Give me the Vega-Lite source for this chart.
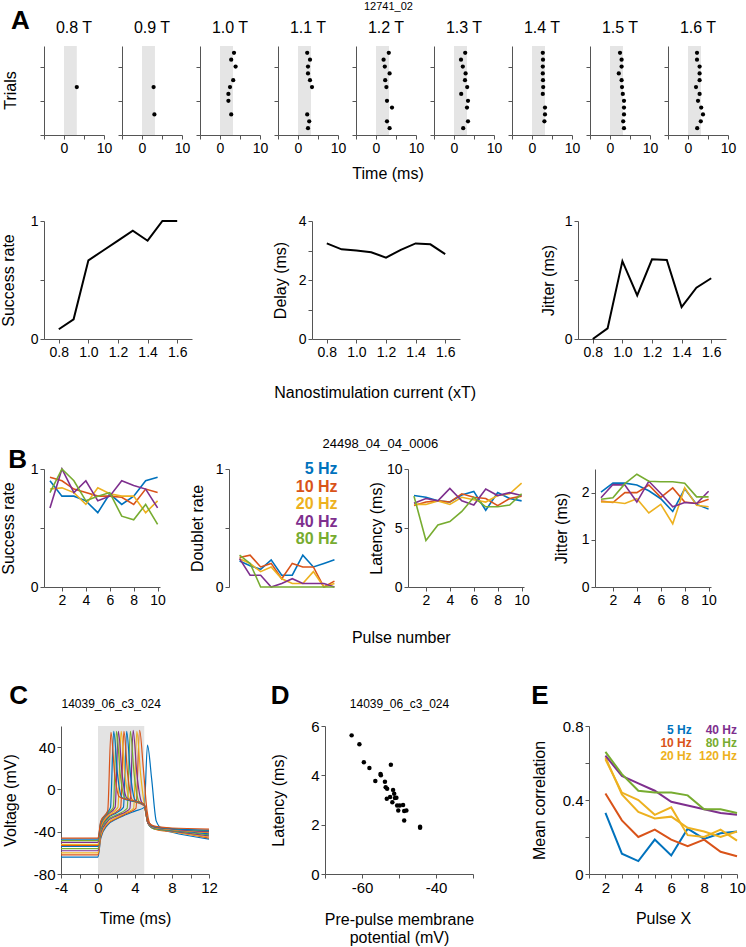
{
"$schema": "https://vega.github.io/schema/vega-lite/v6.json",
"padding": {"left": 0, "top": 1, "right": 5, "bottom": 2},
"config": {
  "font": "Liberation Sans",
  "view": {"stroke": null},
  "axis": {"grid": false, "domainColor": "#555", "tickColor": "#555", "labelColor": "#000", "titleColor": "#000", "labelFontSize": 14, "titleFontSize": 16, "titleFontWeight": "normal", "tickSize": 4, "labelPadding": 2, "titlePadding": 6, "labelFlush": false, "labelOverlap": false},
  "title": {"fontWeight": "normal", "color": "#000", "fontSize": 16},
  "header": {"labelColor": "#000", "titleColor": "#000"}
},
"datasets": {
  "raster": [
    {"stim": "0.8 T", "rl": "Trials", "trial": 7, "t": 3.2},
    {"stim": "0.9 T", "rl": "Trials", "trial": 7, "t": 2.9},
    {"stim": "0.9 T", "rl": "Trials", "trial": 3, "t": 3.1},
    {"stim": "1.0 T", "rl": "Trials", "trial": 12, "t": 3.5},
    {"stim": "1.0 T", "rl": "Trials", "trial": 11, "t": 2.8},
    {"stim": "1.0 T", "rl": "Trials", "trial": 10, "t": 3.9},
    {"stim": "1.0 T", "rl": "Trials", "trial": 8, "t": 3.3},
    {"stim": "1.0 T", "rl": "Trials", "trial": 7, "t": 2.5},
    {"stim": "1.0 T", "rl": "Trials", "trial": 6, "t": 2.1},
    {"stim": "1.0 T", "rl": "Trials", "trial": 5, "t": 2.1},
    {"stim": "1.0 T", "rl": "Trials", "trial": 3, "t": 2.8},
    {"stim": "1.1 T", "rl": "Trials", "trial": 12, "t": 2.3},
    {"stim": "1.1 T", "rl": "Trials", "trial": 11, "t": 3.0},
    {"stim": "1.1 T", "rl": "Trials", "trial": 10, "t": 2.5},
    {"stim": "1.1 T", "rl": "Trials", "trial": 9, "t": 2.5},
    {"stim": "1.1 T", "rl": "Trials", "trial": 8, "t": 3.0},
    {"stim": "1.1 T", "rl": "Trials", "trial": 7, "t": 3.5},
    {"stim": "1.1 T", "rl": "Trials", "trial": 3, "t": 2.3},
    {"stim": "1.1 T", "rl": "Trials", "trial": 2, "t": 2.8},
    {"stim": "1.1 T", "rl": "Trials", "trial": 1, "t": 2.5},
    {"stim": "1.2 T", "rl": "Trials", "trial": 12, "t": 3.2},
    {"stim": "1.2 T", "rl": "Trials", "trial": 11, "t": 1.9},
    {"stim": "1.2 T", "rl": "Trials", "trial": 10, "t": 2.2},
    {"stim": "1.2 T", "rl": "Trials", "trial": 9, "t": 3.4},
    {"stim": "1.2 T", "rl": "Trials", "trial": 8, "t": 2.3},
    {"stim": "1.2 T", "rl": "Trials", "trial": 7, "t": 2.6},
    {"stim": "1.2 T", "rl": "Trials", "trial": 5, "t": 2.75},
    {"stim": "1.2 T", "rl": "Trials", "trial": 4, "t": 4.0},
    {"stim": "1.2 T", "rl": "Trials", "trial": 2, "t": 2.75},
    {"stim": "1.2 T", "rl": "Trials", "trial": 1, "t": 3.4},
    {"stim": "1.3 T", "rl": "Trials", "trial": 12, "t": 2.8},
    {"stim": "1.3 T", "rl": "Trials", "trial": 11, "t": 1.75},
    {"stim": "1.3 T", "rl": "Trials", "trial": 10, "t": 2.2},
    {"stim": "1.3 T", "rl": "Trials", "trial": 9, "t": 2.9},
    {"stim": "1.3 T", "rl": "Trials", "trial": 8, "t": 2.75},
    {"stim": "1.3 T", "rl": "Trials", "trial": 7, "t": 3.3},
    {"stim": "1.3 T", "rl": "Trials", "trial": 6, "t": 1.8},
    {"stim": "1.3 T", "rl": "Trials", "trial": 5, "t": 3.5},
    {"stim": "1.3 T", "rl": "Trials", "trial": 4, "t": 3.25},
    {"stim": "1.3 T", "rl": "Trials", "trial": 2, "t": 3.5},
    {"stim": "1.3 T", "rl": "Trials", "trial": 1, "t": 2.3},
    {"stim": "1.4 T", "rl": "Trials", "trial": 12, "t": 2.7},
    {"stim": "1.4 T", "rl": "Trials", "trial": 11, "t": 2.75},
    {"stim": "1.4 T", "rl": "Trials", "trial": 10, "t": 2.7},
    {"stim": "1.4 T", "rl": "Trials", "trial": 9, "t": 2.7},
    {"stim": "1.4 T", "rl": "Trials", "trial": 8, "t": 2.75},
    {"stim": "1.4 T", "rl": "Trials", "trial": 7, "t": 2.8},
    {"stim": "1.4 T", "rl": "Trials", "trial": 6, "t": 2.7},
    {"stim": "1.4 T", "rl": "Trials", "trial": 4, "t": 3.25},
    {"stim": "1.4 T", "rl": "Trials", "trial": 3, "t": 3.25},
    {"stim": "1.4 T", "rl": "Trials", "trial": 2, "t": 3.1},
    {"stim": "1.5 T", "rl": "Trials", "trial": 12, "t": 2.5},
    {"stim": "1.5 T", "rl": "Trials", "trial": 11, "t": 2.9},
    {"stim": "1.5 T", "rl": "Trials", "trial": 10, "t": 2.9},
    {"stim": "1.5 T", "rl": "Trials", "trial": 9, "t": 2.2},
    {"stim": "1.5 T", "rl": "Trials", "trial": 8, "t": 2.9},
    {"stim": "1.5 T", "rl": "Trials", "trial": 7, "t": 3.0},
    {"stim": "1.5 T", "rl": "Trials", "trial": 6, "t": 3.2},
    {"stim": "1.5 T", "rl": "Trials", "trial": 5, "t": 3.5},
    {"stim": "1.5 T", "rl": "Trials", "trial": 4, "t": 3.5},
    {"stim": "1.5 T", "rl": "Trials", "trial": 3, "t": 3.5},
    {"stim": "1.5 T", "rl": "Trials", "trial": 2, "t": 3.3},
    {"stim": "1.5 T", "rl": "Trials", "trial": 1, "t": 3.5},
    {"stim": "1.6 T", "rl": "Trials", "trial": 12, "t": 2.25},
    {"stim": "1.6 T", "rl": "Trials", "trial": 11, "t": 2.25},
    {"stim": "1.6 T", "rl": "Trials", "trial": 10, "t": 2.9},
    {"stim": "1.6 T", "rl": "Trials", "trial": 9, "t": 2.9},
    {"stim": "1.6 T", "rl": "Trials", "trial": 8, "t": 2.9},
    {"stim": "1.6 T", "rl": "Trials", "trial": 7, "t": 2.0},
    {"stim": "1.6 T", "rl": "Trials", "trial": 6, "t": 2.9},
    {"stim": "1.6 T", "rl": "Trials", "trial": 5, "t": 2.5},
    {"stim": "1.6 T", "rl": "Trials", "trial": 4, "t": 3.3},
    {"stim": "1.6 T", "rl": "Trials", "trial": 3, "t": 3.75},
    {"stim": "1.6 T", "rl": "Trials", "trial": 2, "t": 3.2},
    {"stim": "1.6 T", "rl": "Trials", "trial": 1, "t": 2.3}
  ],
  "stimA": [
    {"I": 0.8, "success": 0.083, "delay": 3.24, "jitter": 0},
    {"I": 0.9, "success": 0.167, "delay": 3.04, "jitter": 0.09},
    {"I": 1.0, "success": 0.667, "delay": 3.0, "jitter": 0.66},
    {"I": 1.1, "success": 0.75, "delay": 2.94, "jitter": 0.37},
    {"I": 1.2, "success": 0.833, "delay": 2.76, "jitter": 0.675},
    {"I": 1.3, "success": 0.917, "delay": 3.02, "jitter": 0.67},
    {"I": 1.4, "success": 0.833, "delay": 3.24, "jitter": 0.27},
    {"I": 1.5, "success": 1.0, "delay": 3.21, "jitter": 0.435},
    {"I": 1.6, "success": 1.0, "delay": 2.88, "jitter": 0.515}
  ],
  "pulse": [
    {"freq": "5 Hz", "p": 1, "sr": 0.90, "dr": 0.22, "lat": 7.75, "jit": 2.01},
    {"freq": "5 Hz", "p": 2, "sr": 0.77, "dr": 0.18, "lat": 7.6, "jit": 2.2},
    {"freq": "5 Hz", "p": 3, "sr": 0.77, "dr": 0.15, "lat": 7.3, "jit": 2.2},
    {"freq": "5 Hz", "p": 4, "sr": 0.73, "dr": 0.23, "lat": 7.2, "jit": 2.16},
    {"freq": "5 Hz", "p": 5, "sr": 0.63, "dr": 0.10, "lat": 7.8, "jit": 2.04},
    {"freq": "5 Hz", "p": 6, "sr": 0.79, "dr": 0.10, "lat": 8.1, "jit": 1.87},
    {"freq": "5 Hz", "p": 7, "sr": 0.70, "dr": 0.27, "lat": 6.5, "jit": 1.6},
    {"freq": "5 Hz", "p": 8, "sr": 0.77, "dr": 0.17, "lat": 8.0, "jit": 2.08},
    {"freq": "5 Hz", "p": 9, "sr": 0.90, "dr": 0.20, "lat": 7.5, "jit": 1.75},
    {"freq": "5 Hz", "p": 10, "sr": 0.93, "dr": 0.23, "lat": 7.3, "jit": 1.65},
    {"freq": "10 Hz", "p": 1, "sr": 0.93, "dr": 0.25, "lat": 6.9, "jit": 1.82},
    {"freq": "10 Hz", "p": 2, "sr": 0.90, "dr": 0.27, "lat": 7.2, "jit": 1.79},
    {"freq": "10 Hz", "p": 3, "sr": 0.83, "dr": 0.17, "lat": 7.3, "jit": 2.0},
    {"freq": "10 Hz", "p": 4, "sr": 0.80, "dr": 0.20, "lat": 7.2, "jit": 2.0},
    {"freq": "10 Hz", "p": 5, "sr": 0.77, "dr": 0.07, "lat": 7.9, "jit": 2.16},
    {"freq": "10 Hz", "p": 6, "sr": 0.77, "dr": 0.20, "lat": 7.6, "jit": 1.9},
    {"freq": "10 Hz", "p": 7, "sr": 0.76, "dr": 0.17, "lat": 7.5, "jit": 2.1},
    {"freq": "10 Hz", "p": 8, "sr": 0.70, "dr": 0.17, "lat": 6.9, "jit": 1.8},
    {"freq": "10 Hz", "p": 9, "sr": 0.83, "dr": 0.0, "lat": 7.5, "jit": 1.77},
    {"freq": "10 Hz", "p": 10, "sr": 0.80, "dr": 0.05, "lat": 7.7, "jit": 1.86},
    {"freq": "20 Hz", "p": 1, "sr": 0.83, "dr": 0.24, "lat": 7.0, "jit": 1.8},
    {"freq": "20 Hz", "p": 2, "sr": 0.84, "dr": 0.20, "lat": 7.0, "jit": 1.8},
    {"freq": "20 Hz", "p": 3, "sr": 0.80, "dr": 0.13, "lat": 7.3, "jit": 1.77},
    {"freq": "20 Hz", "p": 4, "sr": 0.70, "dr": 0.17, "lat": 7.0, "jit": 1.87},
    {"freq": "20 Hz", "p": 5, "sr": 0.84, "dr": 0.07, "lat": 7.6, "jit": 1.57},
    {"freq": "20 Hz", "p": 6, "sr": 0.79, "dr": 0.03, "lat": 7.4, "jit": 1.75},
    {"freq": "20 Hz", "p": 7, "sr": 0.77, "dr": 0.03, "lat": 7.2, "jit": 1.34},
    {"freq": "20 Hz", "p": 8, "sr": 0.77, "dr": 0.13, "lat": 7.75, "jit": 2.1},
    {"freq": "20 Hz", "p": 9, "sr": 0.63, "dr": 0.0, "lat": 7.9, "jit": 1.73},
    {"freq": "20 Hz", "p": 10, "sr": 0.73, "dr": 0.03, "lat": 8.8, "jit": 1.7},
    {"freq": "40 Hz", "p": 1, "sr": 0.67, "dr": 0.24, "lat": 7.1, "jit": 1.89},
    {"freq": "40 Hz", "p": 2, "sr": 1.0, "dr": 0.10, "lat": 7.5, "jit": 2.17},
    {"freq": "40 Hz", "p": 3, "sr": 0.80, "dr": 0.10, "lat": 7.3, "jit": 2.16},
    {"freq": "40 Hz", "p": 4, "sr": 0.90, "dr": 0.0, "lat": 8.35, "jit": 1.8},
    {"freq": "40 Hz", "p": 5, "sr": 0.73, "dr": 0.03, "lat": 7.3, "jit": 2.24},
    {"freq": "40 Hz", "p": 6, "sr": 0.77, "dr": 0.07, "lat": 6.95, "jit": 1.98},
    {"freq": "40 Hz", "p": 7, "sr": 0.90, "dr": 0.03, "lat": 8.3, "jit": 1.7},
    {"freq": "40 Hz", "p": 8, "sr": 0.86, "dr": 0.03, "lat": 7.75, "jit": 1.79},
    {"freq": "40 Hz", "p": 9, "sr": 0.83, "dr": 0.03, "lat": 8.0, "jit": 1.77},
    {"freq": "40 Hz", "p": 10, "sr": 0.67, "dr": 0.0, "lat": 7.75, "jit": 2.03},
    {"freq": "80 Hz", "p": 1, "sr": 0.80, "dr": 0.27, "lat": 7.7, "jit": 1.86},
    {"freq": "80 Hz", "p": 2, "sr": 1.0, "dr": 0.20, "lat": 3.95, "jit": 1.89},
    {"freq": "80 Hz", "p": 3, "sr": 0.90, "dr": 0.0, "lat": 5.25, "jit": 2.19},
    {"freq": "80 Hz", "p": 4, "sr": 0.73, "dr": 0.0, "lat": 5.55, "jit": 2.39},
    {"freq": "80 Hz", "p": 5, "sr": 0.77, "dr": 0.0, "lat": 6.4, "jit": 2.24},
    {"freq": "80 Hz", "p": 6, "sr": 0.80, "dr": 0.0, "lat": 7.6, "jit": 2.23},
    {"freq": "80 Hz", "p": 7, "sr": 0.60, "dr": 0.0, "lat": 6.8, "jit": 2.23},
    {"freq": "80 Hz", "p": 8, "sr": 0.57, "dr": 0.0, "lat": 6.8, "jit": 2.2},
    {"freq": "80 Hz", "p": 9, "sr": 0.70, "dr": 0.0, "lat": 6.95, "jit": 1.91},
    {"freq": "80 Hz", "p": 10, "sr": 0.53, "dr": 0.0, "lat": 7.9, "jit": 1.91}
  ],
  "traces": [
    {"tr": "t01", "t": -4, "v": -64}, {"tr": "t01", "t": 0, "v": -64}, {"tr": "t01", "t": 0.3, "v": -46}, {"tr": "t01", "t": 1, "v": -34}, {"tr": "t01", "t": 2, "v": -28}, {"tr": "t01", "t": 3, "v": -24}, {"tr": "t01", "t": 4, "v": -20.5}, {"tr": "t01", "t": 5, "v": -17}, {"tr": "t01", "t": 5.35, "v": 42}, {"tr": "t01", "t": 5.8, "v": 10}, {"tr": "t01", "t": 6.3, "v": -30}, {"tr": "t01", "t": 7, "v": -38}, {"tr": "t01", "t": 8, "v": -40.5}, {"tr": "t01", "t": 12, "v": -47},
    {"tr": "t02", "t": -4, "v": -62}, {"tr": "t02", "t": 0, "v": -62}, {"tr": "t02", "t": 0.3, "v": -45}, {"tr": "t02", "t": 1, "v": -33}, {"tr": "t02", "t": 2, "v": -27.5}, {"tr": "t02", "t": 3, "v": -23}, {"tr": "t02", "t": 4.1, "v": -18}, {"tr": "t02", "t": 4.5, "v": 56}, {"tr": "t02", "t": 4.9, "v": 20}, {"tr": "t02", "t": 5.3, "v": -20}, {"tr": "t02", "t": 5.8, "v": -36}, {"tr": "t02", "t": 6.5, "v": -38.5}, {"tr": "t02", "t": 8, "v": -40}, {"tr": "t02", "t": 12, "v": -46},
    {"tr": "t03", "t": -4, "v": -60}, {"tr": "t03", "t": 0, "v": -60}, {"tr": "t03", "t": 0.3, "v": -43}, {"tr": "t03", "t": 1, "v": -32}, {"tr": "t03", "t": 2, "v": -26.5}, {"tr": "t03", "t": 3, "v": -22}, {"tr": "t03", "t": 3.85, "v": -18}, {"tr": "t03", "t": 4.2, "v": 55}, {"tr": "t03", "t": 4.6, "v": 15}, {"tr": "t03", "t": 5.0, "v": -14}, {"tr": "t03", "t": 5.4, "v": -32}, {"tr": "t03", "t": 6, "v": -37}, {"tr": "t03", "t": 8, "v": -40}, {"tr": "t03", "t": 12, "v": -45},
    {"tr": "t04", "t": -4, "v": -58}, {"tr": "t04", "t": 0, "v": -58}, {"tr": "t04", "t": 0.3, "v": -41}, {"tr": "t04", "t": 1, "v": -30.5}, {"tr": "t04", "t": 2, "v": -25}, {"tr": "t04", "t": 3, "v": -21}, {"tr": "t04", "t": 3.45, "v": -18}, {"tr": "t04", "t": 3.8, "v": 56}, {"tr": "t04", "t": 4.2, "v": 15}, {"tr": "t04", "t": 4.7, "v": -12}, {"tr": "t04", "t": 5, "v": -15}, {"tr": "t04", "t": 5.4, "v": -32}, {"tr": "t04", "t": 6, "v": -37}, {"tr": "t04", "t": 8, "v": -39.5}, {"tr": "t04", "t": 12, "v": -44},
    {"tr": "t05", "t": -4, "v": -56}, {"tr": "t05", "t": 0, "v": -56}, {"tr": "t05", "t": 0.3, "v": -39}, {"tr": "t05", "t": 1, "v": -29}, {"tr": "t05", "t": 2, "v": -24}, {"tr": "t05", "t": 3.15, "v": -18}, {"tr": "t05", "t": 3.5, "v": 55}, {"tr": "t05", "t": 3.9, "v": 15}, {"tr": "t05", "t": 4.4, "v": -11}, {"tr": "t05", "t": 5, "v": -15}, {"tr": "t05", "t": 5.4, "v": -32}, {"tr": "t05", "t": 6, "v": -37}, {"tr": "t05", "t": 8, "v": -39}, {"tr": "t05", "t": 12, "v": -43},
    {"tr": "t06", "t": -4, "v": -54}, {"tr": "t06", "t": 0, "v": -54}, {"tr": "t06", "t": 0.3, "v": -37}, {"tr": "t06", "t": 1, "v": -27.5}, {"tr": "t06", "t": 2, "v": -22}, {"tr": "t06", "t": 2.75, "v": -17}, {"tr": "t06", "t": 3.1, "v": 55}, {"tr": "t06", "t": 3.5, "v": 15}, {"tr": "t06", "t": 4.0, "v": -10}, {"tr": "t06", "t": 5, "v": -15}, {"tr": "t06", "t": 5.4, "v": -32}, {"tr": "t06", "t": 6, "v": -36.5}, {"tr": "t06", "t": 8, "v": -38.5}, {"tr": "t06", "t": 12, "v": -42},
    {"tr": "t07", "t": -4, "v": -53}, {"tr": "t07", "t": 0, "v": -53}, {"tr": "t07", "t": 0.3, "v": -36}, {"tr": "t07", "t": 1, "v": -26.5}, {"tr": "t07", "t": 2, "v": -21}, {"tr": "t07", "t": 2.45, "v": -17}, {"tr": "t07", "t": 2.8, "v": 55}, {"tr": "t07", "t": 3.2, "v": 15}, {"tr": "t07", "t": 3.7, "v": -10}, {"tr": "t07", "t": 5, "v": -15.5}, {"tr": "t07", "t": 5.4, "v": -32}, {"tr": "t07", "t": 6, "v": -36}, {"tr": "t07", "t": 8, "v": -38}, {"tr": "t07", "t": 12, "v": -41},
    {"tr": "t08", "t": -4, "v": -52}, {"tr": "t08", "t": 0, "v": -52}, {"tr": "t08", "t": 0.3, "v": -35}, {"tr": "t08", "t": 1, "v": -25.5}, {"tr": "t08", "t": 2.15, "v": -17}, {"tr": "t08", "t": 2.5, "v": 55}, {"tr": "t08", "t": 2.9, "v": 15}, {"tr": "t08", "t": 3.4, "v": -9}, {"tr": "t08", "t": 5, "v": -15}, {"tr": "t08", "t": 5.4, "v": -31}, {"tr": "t08", "t": 6, "v": -36}, {"tr": "t08", "t": 8, "v": -38}, {"tr": "t08", "t": 12, "v": -40.5},
    {"tr": "t09", "t": -4, "v": -50}, {"tr": "t09", "t": 0, "v": -50}, {"tr": "t09", "t": 0.3, "v": -33}, {"tr": "t09", "t": 1, "v": -24}, {"tr": "t09", "t": 1.85, "v": -17}, {"tr": "t09", "t": 2.2, "v": 55}, {"tr": "t09", "t": 2.6, "v": 15}, {"tr": "t09", "t": 3.1, "v": -8}, {"tr": "t09", "t": 5, "v": -15}, {"tr": "t09", "t": 5.4, "v": -31}, {"tr": "t09", "t": 6, "v": -35.5}, {"tr": "t09", "t": 8, "v": -37.5}, {"tr": "t09", "t": 12, "v": -40},
    {"tr": "t10", "t": -4, "v": -48.5}, {"tr": "t10", "t": 0, "v": -48.5}, {"tr": "t10", "t": 0.3, "v": -32}, {"tr": "t10", "t": 1, "v": -23}, {"tr": "t10", "t": 1.65, "v": -17}, {"tr": "t10", "t": 2.0, "v": 55}, {"tr": "t10", "t": 2.4, "v": 15}, {"tr": "t10", "t": 2.9, "v": -8}, {"tr": "t10", "t": 5, "v": -14.5}, {"tr": "t10", "t": 5.4, "v": -30}, {"tr": "t10", "t": 6, "v": -35}, {"tr": "t10", "t": 8, "v": -37}, {"tr": "t10", "t": 12, "v": -39},
    {"tr": "t11", "t": -4, "v": -47}, {"tr": "t11", "t": 0, "v": -47}, {"tr": "t11", "t": 0.3, "v": -31}, {"tr": "t11", "t": 1, "v": -22}, {"tr": "t11", "t": 1.35, "v": -17}, {"tr": "t11", "t": 1.7, "v": 55}, {"tr": "t11", "t": 2.1, "v": 15}, {"tr": "t11", "t": 2.6, "v": -8}, {"tr": "t11", "t": 5, "v": -14}, {"tr": "t11", "t": 5.4, "v": -30}, {"tr": "t11", "t": 6, "v": -35}, {"tr": "t11", "t": 8, "v": -37}, {"tr": "t11", "t": 12, "v": -38.5},
    {"tr": "t12", "t": -4, "v": -46}, {"tr": "t12", "t": 0, "v": -46}, {"tr": "t12", "t": 0.3, "v": -30}, {"tr": "t12", "t": 1.05, "v": -20}, {"tr": "t12", "t": 1.4, "v": 54}, {"tr": "t12", "t": 1.8, "v": 15}, {"tr": "t12", "t": 2.3, "v": -7}, {"tr": "t12", "t": 5, "v": -14}, {"tr": "t12", "t": 5.4, "v": -30}, {"tr": "t12", "t": 6, "v": -34.5}, {"tr": "t12", "t": 8, "v": -36.5}, {"tr": "t12", "t": 12, "v": -37.5}
  ],
  "dpts": [
    {"vm": -62.8, "lat": 5.62}, {"vm": -60.7, "lat": 5.26}, {"vm": -59.5, "lat": 4.53}, {"vm": -58.0, "lat": 4.30},
    {"vm": -56.4, "lat": 3.77}, {"vm": -55.0, "lat": 4.05}, {"vm": -54.9, "lat": 4.0}, {"vm": -53.8, "lat": 3.74},
    {"vm": -53.6, "lat": 3.52}, {"vm": -53.2, "lat": 3.46}, {"vm": -53.3, "lat": 3.05}, {"vm": -52.2, "lat": 4.43},
    {"vm": -52.4, "lat": 3.12}, {"vm": -51.6, "lat": 3.41}, {"vm": -51.3, "lat": 3.25}, {"vm": -51.8, "lat": 2.91},
    {"vm": -51.1, "lat": 3.08}, {"vm": -50.7, "lat": 3.09}, {"vm": -50.5, "lat": 2.78}, {"vm": -49.8, "lat": 2.78},
    {"vm": -50.2, "lat": 2.57}, {"vm": -48.9, "lat": 2.80}, {"vm": -48.6, "lat": 2.55}, {"vm": -48.0, "lat": 2.57},
    {"vm": -48.6, "lat": 2.17}, {"vm": -44.3, "lat": 1.92}, {"vm": -44.3, "lat": 1.87}
  ],
  "corr": [
    {"freq": "5 Hz", "px": 2, "c": 0.33}, {"freq": "5 Hz", "px": 3, "c": 0.11}, {"freq": "5 Hz", "px": 4, "c": 0.07}, {"freq": "5 Hz", "px": 5, "c": 0.186}, {"freq": "5 Hz", "px": 6, "c": 0.10}, {"freq": "5 Hz", "px": 7, "c": 0.245}, {"freq": "5 Hz", "px": 8, "c": 0.19}, {"freq": "5 Hz", "px": 9, "c": 0.22}, {"freq": "5 Hz", "px": 10, "c": 0.23},
    {"freq": "10 Hz", "px": 2, "c": 0.435}, {"freq": "10 Hz", "px": 3, "c": 0.29}, {"freq": "10 Hz", "px": 4, "c": 0.20}, {"freq": "10 Hz", "px": 5, "c": 0.24}, {"freq": "10 Hz", "px": 6, "c": 0.186}, {"freq": "10 Hz", "px": 7, "c": 0.15}, {"freq": "10 Hz", "px": 8, "c": 0.186}, {"freq": "10 Hz", "px": 9, "c": 0.12}, {"freq": "10 Hz", "px": 10, "c": 0.096},
    {"freq": "20 Hz", "px": 2, "c": 0.63}, {"freq": "20 Hz", "px": 3, "c": 0.43}, {"freq": "20 Hz", "px": 4, "c": 0.335}, {"freq": "20 Hz", "px": 5, "c": 0.30}, {"freq": "20 Hz", "px": 6, "c": 0.31}, {"freq": "20 Hz", "px": 7, "c": 0.25}, {"freq": "20 Hz", "px": 8, "c": 0.23}, {"freq": "20 Hz", "px": 9, "c": 0.20}, {"freq": "20 Hz", "px": 10, "c": 0.23},
    {"freq": "40 Hz", "px": 2, "c": 0.64}, {"freq": "40 Hz", "px": 3, "c": 0.53}, {"freq": "40 Hz", "px": 4, "c": 0.49}, {"freq": "40 Hz", "px": 5, "c": 0.45}, {"freq": "40 Hz", "px": 6, "c": 0.39}, {"freq": "40 Hz", "px": 7, "c": 0.37}, {"freq": "40 Hz", "px": 8, "c": 0.35}, {"freq": "40 Hz", "px": 9, "c": 0.33}, {"freq": "40 Hz", "px": 10, "c": 0.32},
    {"freq": "80 Hz", "px": 2, "c": 0.66}, {"freq": "80 Hz", "px": 3, "c": 0.54}, {"freq": "80 Hz", "px": 4, "c": 0.45}, {"freq": "80 Hz", "px": 5, "c": 0.44}, {"freq": "80 Hz", "px": 6, "c": 0.44}, {"freq": "80 Hz", "px": 7, "c": 0.425}, {"freq": "80 Hz", "px": 8, "c": 0.35}, {"freq": "80 Hz", "px": 9, "c": 0.35}, {"freq": "80 Hz", "px": 10, "c": 0.33},
    {"freq": "120 Hz", "px": 2, "c": 0.62}, {"freq": "120 Hz", "px": 3, "c": 0.44}, {"freq": "120 Hz", "px": 4, "c": 0.40}, {"freq": "120 Hz", "px": 5, "c": 0.32}, {"freq": "120 Hz", "px": 6, "c": 0.36}, {"freq": "120 Hz", "px": 7, "c": 0.21}, {"freq": "120 Hz", "px": 8, "c": 0.20}, {"freq": "120 Hz", "px": 9, "c": 0.24}, {"freq": "120 Hz", "px": 10, "c": 0.18}
  ]
},
"spacing": 37,
"vconcat": [
  {
    "spacing": 32,
    "vconcat": [
      {
        "title": {"text": "A", "anchor": "start", "fontSize": 26, "fontWeight": "bold", "dy": 33, "dx": 8, "offset": 0},
        "vconcat": [{
          "data": {"name": "raster"},
          "title": {"text": "12741_02", "fontSize": 11, "offset": 8, "anchor": "middle", "dx": 19},
          "facet": {
            "row": {"field": "rl", "type": "nominal", "header": {"title": null, "labelAngle": -90, "labelFontSize": 16, "labelPadding": 17}},
            "column": {"field": "stim", "type": "ordinal", "header": {"title": "Time (ms)", "titleOrient": "bottom", "titleFontSize": 16, "titleFontWeight": "normal", "titlePadding": 21, "labelOrient": "top", "labelFontSize": 16, "labelPadding": 10}}
          },
          "spacing": {"column": 18, "row": 0},
          "bounds": "flush",
          "resolve": {"axis": {"y": "independent", "x": "independent"}},
          "spec": {
            "width": 60, "height": 89,
            "layer": [
              {"mark": {"type": "rect", "color": "#e5e5e5"},
               "encoding": {
                 "x": {"datum": 0, "type": "quantitative", "scale": {"domain": [-5, 10]}, "axis": {"values": [-5, 0, 5, 10], "labelOverlap": false, "labelBound": false, "labelExpr": "datum.value == 0 || datum.value == 10 ? datum.label : ''", "title": null}},
                 "x2": {"datum": 3.2},
                 "y": {"datum": 0, "type": "quantitative", "scale": {"domain": [0, 13]}, "axis": {"values": [0, 5, 10], "labels": false, "title": null}},
                 "y2": {"datum": 13}}},
              {"mark": {"type": "circle", "size": 18, "color": "#000", "opacity": 1},
               "encoding": {
                 "x": {"field": "t", "type": "quantitative", "scale": {"domain": [-5, 10]}, "axis": {"values": [-5, 0, 5, 10], "labelOverlap": false, "labelBound": false, "labelExpr": "datum.value == 0 || datum.value == 10 ? datum.label : ''", "title": null}},
                 "y": {"field": "trial", "type": "quantitative", "scale": {"domain": [0, 13]}, "axis": {"values": [0, 5, 10], "labels": false, "title": null}}
               }}
            ]
          }
        }]
      },
      {
        "hconcat": [
          {"data": {"name": "stimA"}, "width": 148, "height": 118,
           "mark": {"type": "line", "color": "#000", "strokeWidth": 2},
           "encoding": {
             "x": {"field": "I", "type": "quantitative", "scale": {"domain": [0.7, 1.7]}, "axis": {"values": [0.8, 1.0, 1.2, 1.4, 1.6], "format": ".1f", "labelOverlap": false, "title": null}},
             "y": {"field": "success", "type": "quantitative", "scale": {"domain": [0, 1]}, "axis": {"values": [0, 0.5, 1], "labelOverlap": false, "labelExpr": "datum.value == 0.5 ? '' : format(datum.value, '~g')", "title": "Success rate", "titlePadding": 14}}
           }},
          {"data": {"name": "stimA"}, "width": 148, "height": 118,
           "mark": {"type": "line", "color": "#000", "strokeWidth": 2},
           "encoding": {
             "x": {"field": "I", "type": "quantitative", "scale": {"domain": [0.7, 1.7]}, "axis": {"values": [0.8, 1.0, 1.2, 1.4, 1.6], "format": ".1f", "labelOverlap": false, "title": null}},
             "y": {"field": "delay", "type": "quantitative", "scale": {"domain": [0, 4]}, "axis": {"values": [0, 1, 2, 3, 4], "labelOverlap": false, "labelExpr": "datum.value % 2 == 0 ? format(datum.value, '~g') : ''", "title": "Delay (ms)", "titlePadding": 10}}
           }},
          {"data": {"name": "stimA"}, "width": 148, "height": 118,
           "mark": {"type": "line", "color": "#000", "strokeWidth": 2},
           "encoding": {
             "x": {"field": "I", "type": "quantitative", "scale": {"domain": [0.7, 1.7]}, "axis": {"values": [0.8, 1.0, 1.2, 1.4, 1.6], "format": ".1f", "labelOverlap": false, "title": null}},
             "y": {"field": "jitter", "type": "quantitative", "scale": {"domain": [0, 1]}, "axis": {"values": [0, 0.5, 1], "labelOverlap": false, "labelExpr": "datum.value == 0.5 ? '' : format(datum.value, '~g')", "title": "Jitter (ms)", "titlePadding": 8}}
           }}
        ],
        "spacing": 80,
        "title": {"text": "Nanostimulation current (xT)", "orient": "bottom", "anchor": "middle", "fontSize": 16, "offset": 26, "dx": 12}
      }
    ]
  },
  {
    "title": {"text": "B", "anchor": "start", "fontSize": 26, "fontWeight": "bold", "dy": 35, "dx": 8, "offset": 0},
    "vconcat": [{
      "title": {"text": "24498_04_04_0006", "fontSize": 13, "offset": 10, "anchor": "middle", "dx": 22},
      "vconcat": [{
        "hconcat": [
          {"data": {"name": "pulse"}, "width": 116, "height": 118,
           "mark": {"type": "line", "strokeWidth": 1.6},
           "encoding": {
             "x": {"field": "p", "type": "quantitative", "scale": {"domain": [0.5, 10.2]}, "axis": {"values": [2, 4, 6, 8, 10], "labelOverlap": false, "title": null}},
             "y": {"field": "sr", "type": "quantitative", "scale": {"domain": [0, 1]}, "axis": {"values": [0, 0.5, 1], "labelOverlap": false, "labelExpr": "datum.value == 0.5 ? '' : format(datum.value, '~g')", "title": "Success rate", "titlePadding": 14}},
             "color": {"field": "freq", "type": "nominal", "scale": {"domain": ["5 Hz", "10 Hz", "20 Hz", "40 Hz", "80 Hz"], "range": ["#0072BD", "#D95319", "#EDB120", "#7E2F8E", "#77AC30"]}, "legend": null}
           }},
          {"width": 116, "height": 118,
           "layer": [
             {"data": {"name": "pulse"},
              "mark": {"type": "line", "strokeWidth": 1.6},
              "encoding": {
                "x": {"field": "p", "type": "quantitative", "scale": {"domain": [0.5, 10.2]}, "axis": {"values": [2, 4, 6, 8, 10], "labelOverlap": false, "title": null}},
                "y": {"field": "dr", "type": "quantitative", "scale": {"domain": [0, 1]}, "axis": {"values": [0, 0.5, 1], "labelOverlap": false, "labelExpr": "datum.value == 0.5 ? '' : format(datum.value, '~g')", "title": "Doublet rate", "titlePadding": 10}},
                "color": {"field": "freq", "type": "nominal", "scale": {"domain": ["5 Hz", "10 Hz", "20 Hz", "40 Hz", "80 Hz"], "range": ["#0072BD", "#D95319", "#EDB120", "#7E2F8E", "#77AC30"]}, "legend": null}
              }},
             {"data": {"values": [{"freq": "5 Hz"}, {"freq": "10 Hz"}, {"freq": "20 Hz"}, {"freq": "40 Hz"}, {"freq": "80 Hz"}]},
              "mark": {"type": "text", "align": "right", "baseline": "middle", "fontSize": 16, "fontWeight": "bold"},
              "encoding": {
                "x": {"datum": 10.3, "type": "quantitative", "axis": null},
                "y": {"field": "freq", "type": "ordinal", "sort": null, "scale": {"type": "point", "range": [0, 70], "padding": 0}, "axis": null},
                "text": {"field": "freq"},
                "color": {"field": "freq", "type": "nominal", "scale": {"domain": ["5 Hz", "10 Hz", "20 Hz", "40 Hz", "80 Hz"], "range": ["#0072BD", "#D95319", "#EDB120", "#7E2F8E", "#77AC30"]}, "legend": null}
              }}
           ],
           "resolve": {"scale": {"y": "independent"}}},
          {"data": {"name": "pulse"}, "width": 116, "height": 118,
           "mark": {"type": "line", "strokeWidth": 1.6},
           "encoding": {
             "x": {"field": "p", "type": "quantitative", "scale": {"domain": [0.5, 10.2]}, "axis": {"values": [2, 4, 6, 8, 10], "labelOverlap": false, "title": null}},
             "y": {"field": "lat", "type": "quantitative", "scale": {"domain": [0, 10]}, "axis": {"values": [0, 5, 10], "labelOverlap": false, "title": "Latency (ms)", "titlePadding": 2}},
             "color": {"field": "freq", "type": "nominal", "scale": {"domain": ["5 Hz", "10 Hz", "20 Hz", "40 Hz", "80 Hz"], "range": ["#0072BD", "#D95319", "#EDB120", "#7E2F8E", "#77AC30"]}, "legend": null}
           }},
          {"data": {"name": "pulse"}, "width": 116, "height": 118,
           "mark": {"type": "line", "strokeWidth": 1.6},
           "encoding": {
             "x": {"field": "p", "type": "quantitative", "scale": {"domain": [0.5, 10.2]}, "axis": {"values": [2, 4, 6, 8, 10], "labelOverlap": false, "title": null}},
             "y": {"field": "jit", "type": "quantitative", "scale": {"domain": [0, 2.5]}, "axis": {"values": [0, 1, 2], "labelOverlap": false, "title": "Jitter (ms)", "titlePadding": 12}},
             "color": {"field": "freq", "type": "nominal", "scale": {"domain": ["5 Hz", "10 Hz", "20 Hz", "40 Hz", "80 Hz"], "range": ["#0072BD", "#D95319", "#EDB120", "#7E2F8E", "#77AC30"]}, "legend": null}
           }}
        ],
        "spacing": 23,
        "title": {"text": "Pulse number", "orient": "bottom", "anchor": "middle", "fontSize": 16, "offset": 23, "dx": 43}
      }]
    }]
  },
  {
    "bounds": "flush", "spacing": 16,
    "hconcat": [
      {"width": 1, "height": 148, "data": {"values": [{"k": 1}]}, "mark": {"type": "point", "opacity": 0}, "encoding": {}},
      {
        "bounds": "flush", "spacing": 116,
        "hconcat": [
          {
            "title": {"text": "C", "anchor": "start", "fontSize": 26, "fontWeight": "bold", "offset": 0, "dy": 12, "dx": 7},
            "width": 148, "height": 148,
            "layer": [
              {"data": {"values": [{"start": 0, "end": 5}]},
               "mark": {"type": "rect", "color": "#e3e3e3"},
               "encoding": {
                 "x": {"field": "start", "type": "quantitative", "axis": {"orient": "top", "title": "14039_06_c3_024", "titleFontSize": 12, "titleAnchor": "start", "titlePadding": 16, "domain": false, "ticks": false, "labels": false}},
                 "x2": {"field": "end"},
                 "y": {"datum": -80, "type": "quantitative"}, "y2": {"datum": 60}}},
              {"data": {"name": "traces"},
               "mark": {"type": "line", "strokeWidth": 1.2, "interpolate": "monotone"},
               "encoding": {
                 "x": {"field": "t", "type": "quantitative", "scale": {"domain": [-4, 12]}, "axis": {"values": [-4, -2, 0, 2, 4, 6, 8, 10, 12], "labelOverlap": false, "labelExpr": "datum.value % 4 == 0 ? toString(datum.value) : ''", "title": "Time (ms)", "labelFontSize": 15, "titlePadding": 15}},
                 "y": {"field": "v", "type": "quantitative", "scale": {"domain": [-80, 60]}, "axis": {"values": [-80, -60, -40, -20, 0, 20, 40, 60], "labelOverlap": false, "labelExpr": "datum.value % 40 == 0 ? toString(datum.value) : ''", "title": "Voltage (mV)", "labelFontSize": 15, "titlePadding": 15}},
                 "color": {"field": "tr", "type": "nominal", "scale": {"domain": ["t01", "t02", "t03", "t04", "t05", "t06", "t07", "t08", "t09", "t10", "t11", "t12"], "range": ["#4d0000", "#7a0000", "#a00000", "#c80000", "#f08a8a", "#e8200a", "#ff5a00", "#ff8c00", "#ffb400", "#ffd200", "#ffee10", "#ffff70"]}, "legend": null}
               }}
            ],
            "resolve": {"axis": {"x": "independent"}}
          },
          {
            "title": {"text": "D", "anchor": "start", "fontSize": 26, "fontWeight": "bold", "offset": 0, "dy": 12},
            "width": 148, "height": 148,
            "data": {"name": "dpts"},
            "layer": [
              {"mark": {"type": "circle", "size": 20, "color": "#000", "opacity": 1},
               "encoding": {
                 "x": {"field": "vm", "type": "quantitative", "scale": {"domain": [-70, -30]}, "axis": {"values": [-70, -60, -50, -40, -30], "labelOverlap": false, "labelExpr": "datum.value % 20 == 0 ? toString(datum.value) : ''", "title": ["Pre-pulse membrane", "potential (mV)"], "labelFontSize": 15, "titlePadding": 16}},
                 "y": {"field": "lat", "type": "quantitative", "scale": {"domain": [0, 6]}, "axis": {"values": [0, 1, 2, 3, 4, 5, 6], "labelOverlap": false, "labelExpr": "datum.value % 2 == 0 ? format(datum.value, '~g') : ''", "title": "Latency (ms)", "labelFontSize": 15, "titlePadding": 24}}
               }},
              {"mark": {"type": "circle", "size": 20, "opacity": 0},
               "encoding": {
                 "x": {"field": "vm", "type": "quantitative", "axis": {"orient": "top", "title": "14039_06_c3_024", "titleFontSize": 12, "titlePadding": 16, "domain": false, "ticks": false, "labels": false}},
                 "y": {"field": "lat", "type": "quantitative"}
               }}
            ],
            "resolve": {"axis": {"x": "independent"}}
          },
          {
            "title": {"text": "E", "anchor": "start", "fontSize": 26, "fontWeight": "bold", "offset": 0, "dy": 12},
            "width": 148, "height": 148,
            "layer": [
              {"data": {"name": "corr"},
               "mark": {"type": "line", "strokeWidth": 2},
               "encoding": {
                 "x": {"field": "px", "type": "quantitative", "scale": {"domain": [1, 10]}, "axis": {"values": [1, 2, 3, 4, 5, 6, 7, 8, 9, 10], "labelOverlap": false, "labelExpr": "datum.value % 2 == 0 ? datum.label : ''", "title": "Pulse X", "labelFontSize": 15, "titlePadding": 15}},
                 "y": {"field": "c", "type": "quantitative", "scale": {"domain": [0, 0.8]}, "axis": {"values": [0, 0.2, 0.4, 0.6, 0.8], "labelOverlap": false, "labelExpr": "datum.value == 0 || datum.value == 0.4 || datum.value == 0.8 ? format(datum.value, '~g') : ''", "title": "Mean correlation", "labelFontSize": 15, "titlePadding": 15}},
                 "color": {"field": "freq", "type": "nominal", "scale": {"domain": ["5 Hz", "10 Hz", "20 Hz", "40 Hz", "80 Hz", "120 Hz"], "range": ["#0072BD", "#D95319", "#EDB120", "#7E2F8E", "#77AC30", "#4DBEEE"]}, "legend": null}
               }},
              {"data": {"name": "corr"},
               "mark": {"type": "point", "opacity": 0},
               "encoding": {
                 "x": {"field": "px", "type": "quantitative", "axis": {"orient": "top", "title": "\u00a0", "titleFontSize": 12, "titlePadding": 16, "domain": false, "ticks": false, "labels": false}},
                 "y": {"field": "c", "type": "quantitative", "axis": null}
               }},
              {"data": {"values": [{"freq": "5 Hz"}, {"freq": "10 Hz"}, {"freq": "20 Hz"}]},
               "mark": {"type": "text", "align": "right", "baseline": "middle", "fontSize": 12, "fontWeight": "bold"},
               "encoding": {
                 "x": {"datum": 7.25, "type": "quantitative", "axis": null},
                 "y": {"field": "freq", "type": "ordinal", "sort": null, "scale": {"type": "point", "range": [4, 30], "padding": 0}, "axis": null},
                 "text": {"field": "freq"},
                 "color": {"field": "freq", "type": "nominal", "scale": {"domain": ["5 Hz", "10 Hz", "20 Hz", "40 Hz", "80 Hz", "120 Hz"], "range": ["#0072BD", "#D95319", "#EDB120", "#7E2F8E", "#77AC30", "#4DBEEE"]}, "legend": null}
               }},
              {"data": {"values": [{"freq": "40 Hz"}, {"freq": "80 Hz"}, {"freq": "120 Hz"}]},
               "mark": {"type": "text", "align": "right", "baseline": "middle", "fontSize": 12, "fontWeight": "bold"},
               "encoding": {
                 "x": {"datum": 10.0, "type": "quantitative", "axis": null},
                 "y": {"field": "freq", "type": "ordinal", "sort": null, "scale": {"type": "point", "range": [4, 30], "padding": 0}, "axis": null},
                 "text": {"field": "freq"},
                 "color": {"field": "freq", "type": "nominal", "scale": {"domain": ["5 Hz", "10 Hz", "20 Hz", "40 Hz", "80 Hz", "120 Hz"], "range": ["#0072BD", "#D95319", "#EDB120", "#7E2F8E", "#77AC30", "#4DBEEE"]}, "legend": null}
               }}
            ],
            "resolve": {"scale": {"y": "independent"}, "axis": {"x": "independent"}}
          }
        ]
      }
    ]
  }
]
}
